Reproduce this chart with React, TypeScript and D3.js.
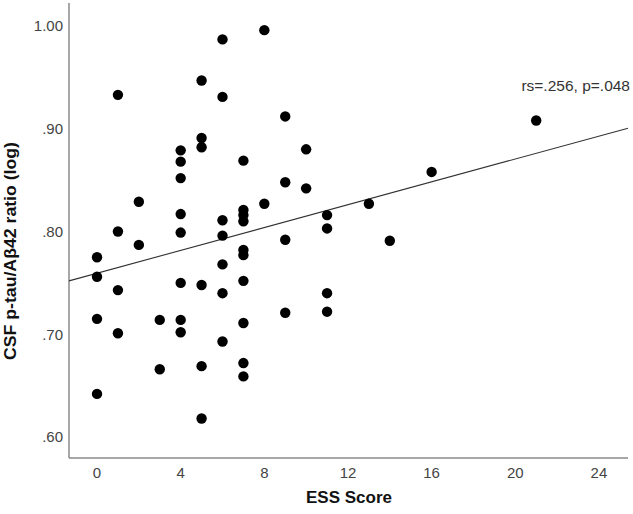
import React, { useEffect, useRef } from 'react'
import * as d3 from 'd3'

// ESS score (x) and CSF p-tau/Aβ42 ratio (log) (y)
const essScores = [
  0, 0, 0, 0,
  1, 1, 1, 1,
  2, 2,
  3, 3,
  4, 4, 4, 4, 4, 4, 4, 4,
  5, 5, 5, 5, 5, 5,
  6, 6, 6, 6, 6, 6, 6,
  7, 7, 7, 7, 7, 7, 7, 7, 7, 7,
  8, 8,
  9, 9, 9, 9,
  10, 10,
  11, 11, 11, 11,
  13, 14, 16, 21,
]
const ratios = [
  0.775, 0.756, 0.715, 0.642,
  0.933, 0.800, 0.743, 0.701,
  0.829, 0.787,
  0.714, 0.666,
  0.879, 0.868, 0.852, 0.817, 0.799, 0.750, 0.714, 0.702,
  0.947, 0.891, 0.882, 0.748, 0.669, 0.618,
  0.987, 0.931, 0.811, 0.796, 0.768, 0.740, 0.693,
  0.869, 0.821, 0.816, 0.810, 0.782, 0.777, 0.752, 0.711, 0.672, 0.659,
  0.996, 0.827,
  0.912, 0.848, 0.792, 0.721,
  0.880, 0.842,
  0.816, 0.803, 0.740, 0.722,
  0.827, 0.791, 0.858, 0.908,
]

const xTicks = [0, 4, 8, 12, 16, 20, 24]
const yTicks = [0.6, 0.7, 0.8, 0.9, 1.0]

// fit line
const fitIntercept = 0.7594
const fitSlope = 0.00556
const annotation = 'rs=.256, p=.048'

export default function App() {
  const ref = useRef<SVGSVGElement>(null)

  useEffect(() => {
    const width = 633
    const height = 514
    const svg = d3.select(ref.current)
    svg.selectAll('*').remove()

    const x = d3.scaleLinear().domain([-1.34, 25.39]).range([69, 628])
    const y = d3.scaleLinear().domain([0.5796, 1.0224]).range([458, 3])

    const font = 'Arial, "Liberation Sans", sans-serif'

    // axes lines
    svg.append('line')
      .attr('x1', x(-1.34)).attr('x2', x(-1.34))
      .attr('y1', y(1.0224)).attr('y2', y(0.5796))
      .attr('stroke', '#8a8a8a').attr('stroke-width', 1.5)
    svg.append('line')
      .attr('x1', x(-1.34)).attr('x2', x(25.39))
      .attr('y1', y(0.5796)).attr('y2', y(0.5796))
      .attr('stroke', '#8a8a8a').attr('stroke-width', 1.5)

    const fmt = d3.format('.2f')
    svg.append('g').selectAll('text')
      .data(yTicks)
      .enter()
      .append('text')
      .attr('x', 63)
      .attr('y', d => y(d))
      .attr('dy', '0.35em')
      .attr('text-anchor', 'end')
      .attr('font-family', font)
      .attr('font-size', 15)
      .attr('fill', '#444')
      .text(d => fmt(d).replace(/^0/, ''))

    svg.append('g').selectAll('text')
      .data(xTicks)
      .enter()
      .append('text')
      .attr('x', d => x(d))
      .attr('y', 478)
      .attr('text-anchor', 'middle')
      .attr('font-family', font)
      .attr('font-size', 15)
      .attr('fill', '#444')
      .text(d => String(d))

    // fit line
    const x0 = -1.34
    const x1 = 25.39
    svg.append('line')
      .attr('x1', x(x0)).attr('y1', y(fitIntercept + fitSlope * x0))
      .attr('x2', x(x1)).attr('y2', y(fitIntercept + fitSlope * x1))
      .attr('stroke', '#333').attr('stroke-width', 1.1)

    // points
    svg.append('g').selectAll('circle')
      .data(essScores)
      .enter()
      .append('circle')
      .attr('cx', d => x(d))
      .attr('cy', (d, i) => y(ratios[i]))
      .attr('r', 5.2)
      .attr('fill', '#000')

    svg.append('text')
      .attr('x', 630)
      .attr('y', 91)
      .attr('text-anchor', 'end')
      .attr('font-family', font)
      .attr('font-size', 15.5)
      .attr('fill', '#333')
      .text(annotation)

    svg.append('text')
      .attr('x', 349)
      .attr('y', 503)
      .attr('text-anchor', 'middle')
      .attr('font-family', font)
      .attr('font-size', 17)
      .attr('font-weight', 'bold')
      .attr('fill', '#111')
      .text('ESS Score')

    svg.append('text')
      .attr('transform', 'translate(16,251) rotate(-90)')
      .attr('text-anchor', 'middle')
      .attr('font-family', font)
      .attr('font-size', 17)
      .attr('font-weight', 'bold')
      .attr('textLength', 218)
      .attr('lengthAdjust', 'spacingAndGlyphs')
      .attr('fill', '#111')
      .text('CSF p-tau/Aβ42 ratio (log)')

    svg.attr('width', width).attr('height', height)
  }, [])

  return (
    <svg ref={ref} width={633} height={514}
      style={{ position: 'absolute', left: 0, top: 0, background: '#fff' }} />
  )
}
